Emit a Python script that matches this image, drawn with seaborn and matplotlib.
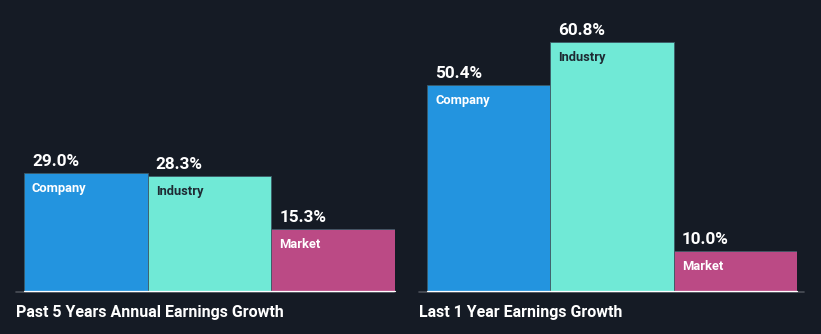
import matplotlib
matplotlib.use("Agg")
import matplotlib.pyplot as plt
import seaborn as sns
import pandas as pd

categories = ["Company", "Industry", "Market"]
past5_values = [29.0, 28.3, 15.3]
last1_values = [50.4, 60.8, 10.0]
panel_titles = ["Past 5 Years Annual Earnings Growth", "Last 1 Year Earnings Growth"]
value_labels_past5 = ["29.0%", "28.3%", "15.3%"]
value_labels_last1 = ["50.4%", "60.8%", "10.0%"]

bar_colors = ["#2394DF", "#70E9D6", "#BB4A85"]
label_colors = ["#FFFFFF", "#1E2A33", "#FFFFFF"]
bg = "#151B25"

sns.set_theme(style="white")
plt.rcParams["font.family"] = ["Roboto", "DejaVu Sans"]

W, H = 821, 334
fig = plt.figure(figsize=(W / 100, H / 100), dpi=100, facecolor=bg)

base_y = 292
top_val = base_y / 4.11  # data units at top of figure

panels = [
    (24, 395, 16, 394, past5_values, value_labels_past5, panel_titles[0], 16),
    (427, 797, 419, 804, last1_values, value_labels_last1, panel_titles[1], 419),
]

for (x0, x1, lx0, lx1, vals, vlabels, title, tx) in panels:
    ax = fig.add_axes([x0 / W, (H - base_y) / H, (x1 - x0) / W, base_y / H])
    ax.set_facecolor(bg)
    df = pd.DataFrame({"cat": categories, "val": vals})
    sns.barplot(data=df, x="cat", y="val", hue="cat", palette=bar_colors,
                width=1.0, ax=ax, legend=False, saturation=1,
                edgecolor="#3d5a66", linewidth=0.6)
    ax.set_xlim(-0.5, 2.5)
    ax.set_ylim(0, top_val)
    ax.set_xticks([]); ax.set_yticks([])
    ax.set_xlabel(""); ax.set_ylabel("")
    for s in ax.spines.values():
        s.set_visible(False)
    # baseline
    px_per_unit = (x1 - x0) / 3.0
    bx0 = -0.5 + (lx0 - x0) / px_per_unit
    bx1 = -0.5 + (lx1 - x0) / px_per_unit
    ax.plot([bx0, bx1], [0, 0], color="#4A4F58", lw=1.2, clip_on=False, zorder=5)
    ax.plot([-0.5, 2.5], [0.25, 0.25], color="#FFFFFF", lw=0.9, clip_on=False, zorder=6)
    ypu = base_y / top_val
    for i, (v, vl) in enumerate(zip(vals, vlabels)):
        xl = i - 0.5 + 8 / px_per_unit
        ax.text(xl, v + 7 / ypu, vl, color="white", fontsize=12.3, fontweight="bold",
                ha="left", va="baseline")
        ax.text(xl, v - 9 / ypu, categories[i], color=label_colors[i], fontsize=9.3,
                fontweight="bold", ha="left", va="top")
    fig.text(tx / W, 1 - 312 / H, title, color="white", fontsize=11.5,
             fontweight="bold", ha="left", va="center")

fig.savefig("out.png", dpi=100, facecolor=bg)
